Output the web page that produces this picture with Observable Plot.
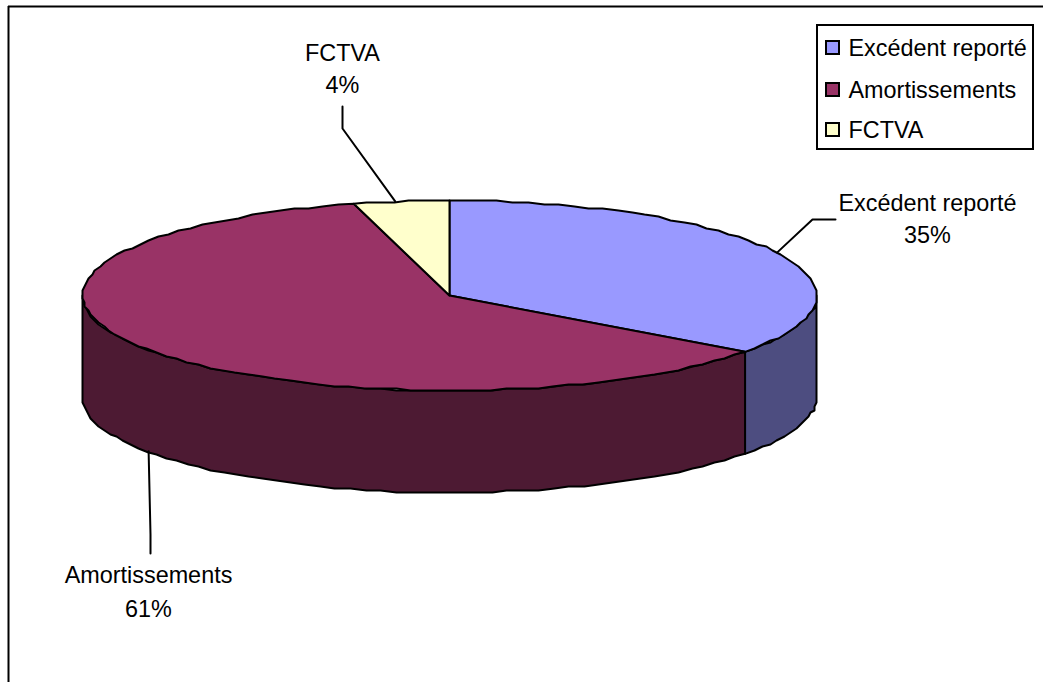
<!DOCTYPE html>
<html>
<head>
<meta charset="utf-8">
<script src="https://cdn.jsdelivr.net/npm/d3@7"></script>
<script src="https://cdn.jsdelivr.net/npm/@observablehq/plot@0.6"></script>
<style>
html,body{margin:0;padding:0;background:#fff;}
svg{display:block;}
</style>
</head>
<body>
<div id="chart"></div>
<script>
// Data
const categories = ["Excédent reporté", "Amortissements", "FCTVA"];
const shares = [35.1, 60.7, 4.2];
const percentLabels = ["35%", "61%", "4%"];

// Styles
const topColors = ["#9999ff", "#993366", "#ffffcc"];
const wallColors = ["#4d4d80", "#4d1a33", "#808066"];
const W = 1043, H = 682;
const cx = 449, cy = 295, rx = 367, ry = 95, depth = 102;
const font = "Liberation Sans";
const fs = 23.4;
const lw = 2;

// Layout of labels
const labelLayout = [
  {dx: 0, elbows: [[812, 219], [835, 219]], tx: 927, ty: [203, 235]},
  {dx: 2, elbows: [[150, 534], [150, 553]], tx: 148, ty: [575, 609]},
  {dx: -6, elbows: [[342, 128], [342, 106]], tx: 342, ty: [53, 85]}
];
const legendBox = {x1: 817, x2: 1033, y1: 25, y2: 149};
const legendRows = [48, 90, 130];

// Angles clockwise from the top of the pie
const total = d3.sum(shares);
let acc = 0;
const slices = categories.map((name, i) => {
  const a0 = acc / total * 2 * Math.PI;
  acc += shares[i];
  const a1 = acc / total * 2 * Math.PI;
  return {name, i, a0, a1};
});
const pt = (a, dy = 0) => ({x: cx + rx * Math.sin(a), y: cy - ry * Math.cos(a) + dy});
// The reference rim is stepped: snap intermediate rim points to a coarse grid
const snap = p => ({x: Math.round(p.x / 2) * 2, y: Math.round(p.y / 2) * 2});
const arc = (a0, a1, dy = 0) => {
  const n = Math.max(2, Math.ceil(Math.abs(a1 - a0) / (Math.PI / 72)));
  return d3.range(n + 1).map(k => {
    const p = pt(a0 + (a1 - a0) * k / n, dy);
    return k === 0 || k === n ? p : snap(p);
  });
};
const center = {x: cx, y: cy};

// Side wall: visible part runs from PI/2 to 3PI/2
const walls = slices.map(s => {
  const a0 = Math.max(s.a0, Math.PI / 2), a1 = Math.min(s.a1, 3 * Math.PI / 2);
  if (a1 <= a0) return null;
  const top = arc(a0, a1), bot = arc(a1, a0, depth);
  return {s, pts: [...top, ...bot, top[0]]};
}).filter(Boolean);

const tops = slices.map(s => ({s, pts: [center, ...arc(s.a0, s.a1), center]}));

const leaders = slices.map((s, i) => {
  const mid = (s.a0 + s.a1) / 2;
  const onWall = Math.cos(mid) < 0;
  const a = pt(mid, onWall ? depth : 0);
  const l = labelLayout[i];
  return [{x: a.x + l.dx, y: a.y}, ...l.elbows.map(([x, y]) => ({x, y}))];
});

const poly = (pts, opts) => Plot.line(pts, {x: "x", y: "y", curve: "linear", strokeLinejoin: "round", ...opts});

const textOpts = {fontFamily: font, fontSize: fs, fill: "#000", lineAnchor: "middle"};

const marks = [
  // chart frame: top and left edges
  Plot.ruleY([6], {x1: 8, x2: W, stroke: "#000", strokeWidth: 2}),
  Plot.ruleX([8], {y1: 6, y2: H, stroke: "#000", strokeWidth: 2}),
  ...walls.map(w => poly(w.pts, {fill: wallColors[w.s.i], stroke: "#000", strokeWidth: lw})),
  ...tops.map(t => poly(t.pts, {fill: topColors[t.s.i], stroke: "#000", strokeWidth: lw})),
  ...leaders.map(l => poly(l, {stroke: "#000", strokeWidth: lw, fill: "none"})),
  ...categories.flatMap((c, i) => {
    const l = labelLayout[i];
    return [
      Plot.text([c], {x: l.tx, y: l.ty[0], text: d => d, ...textOpts}),
      Plot.text([percentLabels[i]], {x: l.tx, y: l.ty[1], text: d => d, ...textOpts})
    ];
  }),
  // legend
  Plot.rect([legendBox], {x1: "x1", x2: "x2", y1: "y1", y2: "y2", fill: "#fff", stroke: "#000", strokeWidth: lw}),
  ...categories.flatMap((c, i) => [
    Plot.rect([c], {x1: 826, x2: 839, y1: legendRows[i] - 7, y2: legendRows[i] + 6, fill: topColors[i], stroke: "#000", strokeWidth: lw}),
    Plot.text([c], {x: 848, y: legendRows[i], text: d => d, textAnchor: "start", ...textOpts})
  ])
];

const chart = Plot.plot({
  width: W,
  height: H,
  margin: 0,
  x: {type: "linear", domain: [0, W], range: [0, W], axis: null},
  y: {type: "linear", domain: [0, H], range: [0, H], axis: null},
  style: {background: "#fff"},
  marks
});
document.getElementById("chart").appendChild(chart);
</script>
</body>
</html>
